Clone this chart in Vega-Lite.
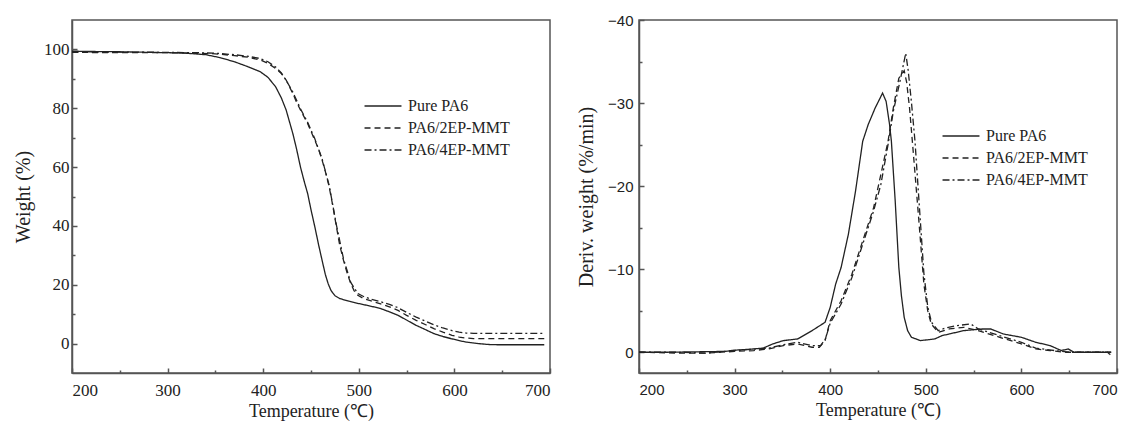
{
  "$schema": "https://vega.github.io/schema/vega-lite/v6.json",
  "padding": {"left": 12, "top": 12, "right": 5, "bottom": 0},
  "background": "white",
  "spacing": 89,
  "bounds": "flush",
  "datasets": {
    "tga": [
      {"s":"Pure PA6","T":200,"W":99.4},{"s":"Pure PA6","T":220,"W":99.3},{"s":"Pure PA6","T":250,"W":99.2},{"s":"Pure PA6","T":280,"W":99.0},{"s":"Pure PA6","T":300,"W":98.9},{"s":"Pure PA6","T":320,"W":98.7},{"s":"Pure PA6","T":340,"W":98.2},{"s":"Pure PA6","T":355,"W":97.2},{"s":"Pure PA6","T":370,"W":95.8},{"s":"Pure PA6","T":385,"W":94.0},{"s":"Pure PA6","T":397,"W":92.4},{"s":"Pure PA6","T":405,"W":90.5},{"s":"Pure PA6","T":413,"W":87.3},{"s":"Pure PA6","T":419,"W":83.5},{"s":"Pure PA6","T":424,"W":79.4},{"s":"Pure PA6","T":431,"W":71.4},{"s":"Pure PA6","T":435,"W":66},{"s":"Pure PA6","T":439,"W":60},{"s":"Pure PA6","T":443,"W":55},{"s":"Pure PA6","T":446.5,"W":51},{"s":"Pure PA6","T":450,"W":45.5},{"s":"Pure PA6","T":454,"W":39.7},{"s":"Pure PA6","T":458,"W":33.5},{"s":"Pure PA6","T":461.6,"W":28.3},{"s":"Pure PA6","T":465,"W":23.5},{"s":"Pure PA6","T":468,"W":20.3},{"s":"Pure PA6","T":471,"W":18},{"s":"Pure PA6","T":475,"W":16.3},{"s":"Pure PA6","T":480,"W":15.3},{"s":"Pure PA6","T":490,"W":14.4},{"s":"Pure PA6","T":500,"W":13.6},{"s":"Pure PA6","T":510,"W":12.9},{"s":"Pure PA6","T":522,"W":12.0},{"s":"Pure PA6","T":532,"W":10.8},{"s":"Pure PA6","T":541,"W":9.6},{"s":"Pure PA6","T":550,"W":8.0},{"s":"Pure PA6","T":560,"W":6.2},{"s":"Pure PA6","T":570,"W":4.7},{"s":"Pure PA6","T":578.5,"W":3.4},{"s":"Pure PA6","T":588,"W":2.4},{"s":"Pure PA6","T":597.5,"W":1.6},{"s":"Pure PA6","T":605,"W":1.0},{"s":"Pure PA6","T":612.5,"W":0.5},{"s":"Pure PA6","T":625,"W":0.0},{"s":"Pure PA6","T":635,"W":-0.3},{"s":"Pure PA6","T":645,"W":-0.4},{"s":"Pure PA6","T":670,"W":-0.4},{"s":"Pure PA6","T":694,"W":-0.4},
      {"s":"PA6/2EP-MMT","T":200,"W":99.0},{"s":"PA6/2EP-MMT","T":250,"W":98.9},{"s":"PA6/2EP-MMT","T":300,"W":98.9},{"s":"PA6/2EP-MMT","T":330,"W":98.7},{"s":"PA6/2EP-MMT","T":350,"W":98.5},{"s":"PA6/2EP-MMT","T":370,"W":97.9},{"s":"PA6/2EP-MMT","T":385,"W":97.3},{"s":"PA6/2EP-MMT","T":397,"W":96.4},{"s":"PA6/2EP-MMT","T":405,"W":95.3},{"s":"PA6/2EP-MMT","T":413,"W":93.5},{"s":"PA6/2EP-MMT","T":419,"W":91.8},{"s":"PA6/2EP-MMT","T":424,"W":89.6},{"s":"PA6/2EP-MMT","T":431,"W":85},{"s":"PA6/2EP-MMT","T":435,"W":82},{"s":"PA6/2EP-MMT","T":439,"W":79.4},{"s":"PA6/2EP-MMT","T":446.5,"W":74.8},{"s":"PA6/2EP-MMT","T":454,"W":69.1},{"s":"PA6/2EP-MMT","T":458,"W":66},{"s":"PA6/2EP-MMT","T":461.6,"W":62.4},{"s":"PA6/2EP-MMT","T":465,"W":58.5},{"s":"PA6/2EP-MMT","T":469,"W":53.3},{"s":"PA6/2EP-MMT","T":473,"W":46.5},{"s":"PA6/2EP-MMT","T":476.6,"W":39.7},{"s":"PA6/2EP-MMT","T":480,"W":33.5},{"s":"PA6/2EP-MMT","T":484,"W":28.3},{"s":"PA6/2EP-MMT","T":488,"W":23.8},{"s":"PA6/2EP-MMT","T":491.6,"W":20.4},{"s":"PA6/2EP-MMT","T":495,"W":18},{"s":"PA6/2EP-MMT","T":499,"W":16.4},{"s":"PA6/2EP-MMT","T":505,"W":15.3},{"s":"PA6/2EP-MMT","T":512,"W":14.6},{"s":"PA6/2EP-MMT","T":522,"W":13.6},{"s":"PA6/2EP-MMT","T":532,"W":12.5},{"s":"PA6/2EP-MMT","T":541,"W":11.3},{"s":"PA6/2EP-MMT","T":550,"W":9.6},{"s":"PA6/2EP-MMT","T":560,"W":7.9},{"s":"PA6/2EP-MMT","T":570,"W":6.4},{"s":"PA6/2EP-MMT","T":578.5,"W":5.1},{"s":"PA6/2EP-MMT","T":588,"W":3.9},{"s":"PA6/2EP-MMT","T":597.5,"W":2.8},{"s":"PA6/2EP-MMT","T":605,"W":2.2},{"s":"PA6/2EP-MMT","T":612,"W":1.9},{"s":"PA6/2EP-MMT","T":620,"W":1.7},{"s":"PA6/2EP-MMT","T":650,"W":1.7},{"s":"PA6/2EP-MMT","T":694,"W":1.7},
      {"s":"PA6/4EP-MMT","T":200,"W":99.2},{"s":"PA6/4EP-MMT","T":250,"W":99.1},{"s":"PA6/4EP-MMT","T":300,"W":99.0},{"s":"PA6/4EP-MMT","T":330,"W":98.9},{"s":"PA6/4EP-MMT","T":350,"W":98.7},{"s":"PA6/4EP-MMT","T":370,"W":98.2},{"s":"PA6/4EP-MMT","T":385,"W":97.6},{"s":"PA6/4EP-MMT","T":397,"W":96.9},{"s":"PA6/4EP-MMT","T":405,"W":95.8},{"s":"PA6/4EP-MMT","T":413,"W":94.0},{"s":"PA6/4EP-MMT","T":419,"W":92.0},{"s":"PA6/4EP-MMT","T":424,"W":89.5},{"s":"PA6/4EP-MMT","T":431,"W":85.5},{"s":"PA6/4EP-MMT","T":439,"W":79.8},{"s":"PA6/4EP-MMT","T":446.5,"W":75.2},{"s":"PA6/4EP-MMT","T":454,"W":69.6},{"s":"PA6/4EP-MMT","T":461.6,"W":62.8},{"s":"PA6/4EP-MMT","T":469,"W":53.8},{"s":"PA6/4EP-MMT","T":476.6,"W":40.3},{"s":"PA6/4EP-MMT","T":484,"W":28.8},{"s":"PA6/4EP-MMT","T":491.6,"W":20.8},{"s":"PA6/4EP-MMT","T":499,"W":17.0},{"s":"PA6/4EP-MMT","T":505,"W":16.0},{"s":"PA6/4EP-MMT","T":512,"W":15.2},{"s":"PA6/4EP-MMT","T":522,"W":14.3},{"s":"PA6/4EP-MMT","T":532,"W":13.3},{"s":"PA6/4EP-MMT","T":541,"W":12.2},{"s":"PA6/4EP-MMT","T":550,"W":10.6},{"s":"PA6/4EP-MMT","T":560,"W":9.0},{"s":"PA6/4EP-MMT","T":570,"W":7.6},{"s":"PA6/4EP-MMT","T":578.5,"W":6.4},{"s":"PA6/4EP-MMT","T":588,"W":5.3},{"s":"PA6/4EP-MMT","T":597.5,"W":4.4},{"s":"PA6/4EP-MMT","T":605,"W":3.9},{"s":"PA6/4EP-MMT","T":612,"W":3.6},{"s":"PA6/4EP-MMT","T":620,"W":3.5},{"s":"PA6/4EP-MMT","T":650,"W":3.5},{"s":"PA6/4EP-MMT","T":694,"W":3.5}
    ],
    "dtg": [
      {"s":"Pure PA6","T":200,"D":0},{"s":"Pure PA6","T":230,"D":0},{"s":"Pure PA6","T":260,"D":-0.05},{"s":"Pure PA6","T":290,"D":-0.1},{"s":"Pure PA6","T":300,"D":-0.25},{"s":"Pure PA6","T":315,"D":-0.35},{"s":"Pure PA6","T":330,"D":-0.5},{"s":"Pure PA6","T":340,"D":-1.0},{"s":"Pure PA6","T":351,"D":-1.4},{"s":"Pure PA6","T":366,"D":-1.6},{"s":"Pure PA6","T":381,"D":-2.6},{"s":"Pure PA6","T":394.6,"D":-3.6},{"s":"Pure PA6","T":400,"D":-5.4},{"s":"Pure PA6","T":405.7,"D":-8.2},{"s":"Pure PA6","T":411.4,"D":-10.2},{"s":"Pure PA6","T":419,"D":-14.2},{"s":"Pure PA6","T":426.5,"D":-19.4},{"s":"Pure PA6","T":434,"D":-25.4},{"s":"Pure PA6","T":439.7,"D":-27.4},{"s":"Pure PA6","T":447,"D":-29.4},{"s":"Pure PA6","T":454.8,"D":-31.2},{"s":"Pure PA6","T":458.5,"D":-30.2},{"s":"Pure PA6","T":462,"D":-27.5},{"s":"Pure PA6","T":464,"D":-25.4},{"s":"Pure PA6","T":468,"D":-18.2},{"s":"Pure PA6","T":471.8,"D":-10.2},{"s":"Pure PA6","T":474.5,"D":-6.8},{"s":"Pure PA6","T":477.4,"D":-4.2},{"s":"Pure PA6","T":481,"D":-2.6},{"s":"Pure PA6","T":485,"D":-1.8},{"s":"Pure PA6","T":494.4,"D":-1.4},{"s":"Pure PA6","T":509.5,"D":-1.6},{"s":"Pure PA6","T":517,"D":-2.0},{"s":"Pure PA6","T":524.6,"D":-2.2},{"s":"Pure PA6","T":539.7,"D":-2.6},{"s":"Pure PA6","T":558.6,"D":-2.8},{"s":"Pure PA6","T":568,"D":-2.8},{"s":"Pure PA6","T":581,"D":-2.2},{"s":"Pure PA6","T":600,"D":-1.8},{"s":"Pure PA6","T":615,"D":-1.2},{"s":"Pure PA6","T":630,"D":-0.8},{"s":"Pure PA6","T":641.7,"D":-0.2},{"s":"Pure PA6","T":649,"D":-0.4},{"s":"Pure PA6","T":655,"D":0},{"s":"Pure PA6","T":670,"D":0},{"s":"Pure PA6","T":690,"D":0},{"s":"Pure PA6","T":693,"D":0.3},
      {"s":"PA6/2EP-MMT","T":200,"D":0},{"s":"PA6/2EP-MMT","T":240,"D":0.1},{"s":"PA6/2EP-MMT","T":270,"D":0.1},{"s":"PA6/2EP-MMT","T":300,"D":-0.1},{"s":"PA6/2EP-MMT","T":320,"D":-0.2},{"s":"PA6/2EP-MMT","T":336,"D":-0.4},{"s":"PA6/2EP-MMT","T":351,"D":-0.8},{"s":"PA6/2EP-MMT","T":366,"D":-1.0},{"s":"PA6/2EP-MMT","T":381,"D":-0.6},{"s":"PA6/2EP-MMT","T":388.6,"D":-0.6},{"s":"PA6/2EP-MMT","T":394.6,"D":-1.4},{"s":"PA6/2EP-MMT","T":400,"D":-3.8},{"s":"PA6/2EP-MMT","T":411.4,"D":-6.2},{"s":"PA6/2EP-MMT","T":422.7,"D":-9.4},{"s":"PA6/2EP-MMT","T":434,"D":-13.4},{"s":"PA6/2EP-MMT","T":445.4,"D":-17.4},{"s":"PA6/2EP-MMT","T":453,"D":-21.4},{"s":"PA6/2EP-MMT","T":460.5,"D":-25.4},{"s":"PA6/2EP-MMT","T":466,"D":-29.4},{"s":"PA6/2EP-MMT","T":471.8,"D":-33},{"s":"PA6/2EP-MMT","T":477.4,"D":-33.9},{"s":"PA6/2EP-MMT","T":480,"D":-32.5},{"s":"PA6/2EP-MMT","T":483,"D":-29.4},{"s":"PA6/2EP-MMT","T":486.8,"D":-24.2},{"s":"PA6/2EP-MMT","T":492.5,"D":-16.2},{"s":"PA6/2EP-MMT","T":498,"D":-8.2},{"s":"PA6/2EP-MMT","T":502,"D":-5},{"s":"PA6/2EP-MMT","T":505.7,"D":-3.4},{"s":"PA6/2EP-MMT","T":513,"D":-2.4},{"s":"PA6/2EP-MMT","T":524.6,"D":-2.8},{"s":"PA6/2EP-MMT","T":539.7,"D":-3.0},{"s":"PA6/2EP-MMT","T":554.8,"D":-2.6},{"s":"PA6/2EP-MMT","T":577.4,"D":-1.8},{"s":"PA6/2EP-MMT","T":600,"D":-1.0},{"s":"PA6/2EP-MMT","T":615,"D":-0.4},{"s":"PA6/2EP-MMT","T":630,"D":-0.2},{"s":"PA6/2EP-MMT","T":645,"D":0},{"s":"PA6/2EP-MMT","T":694,"D":0},
      {"s":"PA6/4EP-MMT","T":200,"D":0},{"s":"PA6/4EP-MMT","T":240,"D":0},{"s":"PA6/4EP-MMT","T":270,"D":0.1},{"s":"PA6/4EP-MMT","T":300,"D":-0.2},{"s":"PA6/4EP-MMT","T":336,"D":-0.5},{"s":"PA6/4EP-MMT","T":351,"D":-0.9},{"s":"PA6/4EP-MMT","T":366,"D":-1.2},{"s":"PA6/4EP-MMT","T":381,"D":-0.8},{"s":"PA6/4EP-MMT","T":390,"D":-0.8},{"s":"PA6/4EP-MMT","T":395,"D":-1.6},{"s":"PA6/4EP-MMT","T":400,"D":-3.5},{"s":"PA6/4EP-MMT","T":411.4,"D":-5.8},{"s":"PA6/4EP-MMT","T":422.7,"D":-9.0},{"s":"PA6/4EP-MMT","T":434,"D":-13.0},{"s":"PA6/4EP-MMT","T":445.4,"D":-17.0},{"s":"PA6/4EP-MMT","T":453,"D":-20.2},{"s":"PA6/4EP-MMT","T":460.5,"D":-25.0},{"s":"PA6/4EP-MMT","T":466,"D":-29.0},{"s":"PA6/4EP-MMT","T":473.7,"D":-33.0},{"s":"PA6/4EP-MMT","T":479,"D":-36.0},{"s":"PA6/4EP-MMT","T":481.5,"D":-34.0},{"s":"PA6/4EP-MMT","T":484.9,"D":-30.2},{"s":"PA6/4EP-MMT","T":488.7,"D":-25.4},{"s":"PA6/4EP-MMT","T":493,"D":-18},{"s":"PA6/4EP-MMT","T":498,"D":-9.5},{"s":"PA6/4EP-MMT","T":502,"D":-5.5},{"s":"PA6/4EP-MMT","T":506,"D":-3.6},{"s":"PA6/4EP-MMT","T":513,"D":-2.6},{"s":"PA6/4EP-MMT","T":520,"D":-2.9},{"s":"PA6/4EP-MMT","T":532,"D":-3.2},{"s":"PA6/4EP-MMT","T":547,"D":-3.4},{"s":"PA6/4EP-MMT","T":555,"D":-2.8},{"s":"PA6/4EP-MMT","T":577,"D":-2.0},{"s":"PA6/4EP-MMT","T":600,"D":-1.2},{"s":"PA6/4EP-MMT","T":615,"D":-0.5},{"s":"PA6/4EP-MMT","T":635,"D":-0.2},{"s":"PA6/4EP-MMT","T":650,"D":0},{"s":"PA6/4EP-MMT","T":694,"D":0}
    ]
  },
  "hconcat": [
    {
      "width": 478, "height": 353,
      "data": {"name": "tga"},
      "mark": {"type": "line", "strokeWidth": 1.3, "color": "#222"},
      "encoding": {
        "x": {"field": "T", "type": "quantitative",
          "scale": {"domain": [200, 700], "nice": false},
          "axis": {"values": [200,250,300,350,400,450,500,550,600,650,700],
            "labelExpr": "datum.value % 100 === 0 ? datum.label : ''",
            "tickSize": {"condition": {"test": "datum.value % 100 === 0", "value": -5}, "value": -3},
            "labelFont": "Liberation Serif", "labelFontSize": 17,
            "title": "Temperature (℃)"}},
        "y": {"field": "W", "type": "quantitative",
          "scale": {"domain": [-10, 110], "nice": false},
          "axis": {"values": [0,10,20,30,40,50,60,70,80,90,100],
            "labelExpr": "datum.value % 20 === 0 ? datum.label : ''",
            "tickSize": {"condition": {"test": "datum.value % 20 === 0", "value": -5}, "value": -3},
            "labelFont": "Liberation Serif", "labelFontSize": 17,
            "titlePadding": 10,
            "title": "Weight (%)"}},
        "strokeDash": {"field": "s", "type": "nominal",
          "scale": {"domain": ["Pure PA6", "PA6/2EP-MMT", "PA6/4EP-MMT"], "range": [[1, 0], [6, 4], [7, 3, 2, 3]]},
          "legend": {"orient": "none", "legendX": 303, "legendY": 78}}
      }
    },
    {
      "width": 478, "height": 353,
      "data": {"name": "dtg"},
      "mark": {"type": "line", "strokeWidth": 1.3, "color": "#222"},
      "encoding": {
        "x": {"field": "T", "type": "quantitative",
          "scale": {"domain": [200, 700], "nice": false},
          "axis": {"values": [200,250,300,350,400,450,500,550,600,650,700],
            "labelExpr": "datum.value % 100 === 0 ? datum.label : ''",
            "tickSize": {"condition": {"test": "datum.value % 100 === 0", "value": -5}, "value": -3},
            "title": "Temperature (℃)"}},
        "y": {"field": "D", "type": "quantitative",
          "scale": {"domain": [-40, 2.5], "nice": false, "reverse": true},
          "axis": {"values": [-40,-35,-30,-25,-20,-15,-10,-5,0],
            "labelExpr": "datum.value % 10 === 0 ? datum.label : ''",
            "tickSize": {"condition": {"test": "datum.value % 10 === 0", "value": -5}, "value": -3},
            "labelPadding": 11, "titlePadding": 11,
            "title": "Deriv. weight (%/min)"}},
        "strokeDash": {"field": "s", "type": "nominal",
          "scale": {"domain": ["Pure PA6", "PA6/2EP-MMT", "PA6/4EP-MMT"], "range": [[1, 0], [6, 4], [7, 3, 2, 3]]},
          "legend": {"orient": "none", "legendX": 314, "legendY": 108}}
      }
    }
  ],
  "resolve": {"legend": {"strokeDash": "independent"}},
  "config": {
    "font": "Liberation Serif",
    "view": {"stroke": "#555", "strokeWidth": 1.5},
    "axis": {
      "grid": false,
      "domainColor": "#555", "domainWidth": 1.5,
      "tickColor": "#555", "tickWidth": 1.5,
      "labelFont": "Liberation Sans", "labelFontSize": 15, "labelColor": "#222", "labelPadding": 8,
      "titleFont": "Liberation Serif", "titleFontSize": 20, "titleFontWeight": "normal", "titleColor": "#222", "titlePadding": 8
    },
    "axisX": {"labelPadding": 14, "titleFontSize": 18, "titlePadding": 4},
    "legend": {
      "title": null, "symbolType": "M-2.64,0H2.64", "symbolSize": 196, "symbolStrokeWidth": 1.3, "symbolStrokeColor": "#222",
      "labelFont": "Liberation Serif", "labelFontSize": 16, "labelColor": "#222", "labelOffset": 17, "rowPadding": 6
    }
  }
}
